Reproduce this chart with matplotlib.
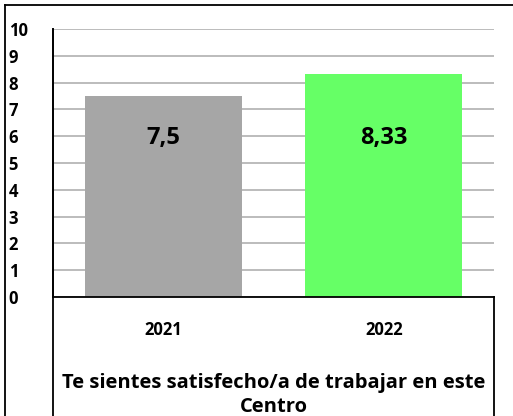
import matplotlib.pyplot as plt
from matplotlib.lines import Line2D

# datos
years = ['2021', '2022']
values = [7.5, 8.33]
value_labels = ['7,5', '8,33']
bar_colors = ['#a6a6a6', '#66ff66']
yticks = list(range(0, 11))
title = 'Te sientes satisfecho/a de trabajar en este\nCentro'

plt.rcParams['font.family'] = ['Open Sans', 'DejaVu Sans']
plt.rcParams['font.weight'] = 'bold'

W, H = 513, 416
fig = plt.figure(figsize=(W / 100, H / 100), dpi=100)
ax = fig.add_axes([53 / W, 1 - 297 / H, (494 - 53) / W, (297 - 29) / H])

x = range(len(years))
ax.bar(x, values, width=0.71, color=bar_colors, zorder=2)
for i, lab in enumerate(value_labels):
    ax.text(i, 5.95, lab, ha='center', va='center', fontsize=17, fontweight='bold', zorder=3)

ax.set_xlim(-0.5, 1.5)
ax.set_ylim(0, 10)
ax.set_yticks(yticks)
ax.set_yticklabels([str(t) for t in yticks], fontsize=12, fontweight='bold', ha='left')
ax.tick_params(axis='y', length=0, pad=32)
ax.set_xticks([])
ax.grid(axis='y', color='#b0b0b0', linewidth=1.2, zorder=0)

for s in ['top', 'right', 'bottom']:
    ax.spines[s].set_visible(False)
ax.spines['left'].set_linewidth(1.2)

# caja del eje de categorias y marco exterior
lines = [
    ([53, 53], [29, 416]),
    ([53, 494], [297, 297]),
    ([494, 494], [297, 416]),
    ([5, 5], [5, 416]),
    ([5, 513], [5, 5]),
]
for xs, ys in lines:
    fx = [v / W for v in xs]
    fy = [1 - v / H for v in ys]
    fig.add_artist(Line2D(fx, fy, color='black', linewidth=1.3))

for i, y in enumerate(years):
    ax.text(i, -1.23, y, ha='center', va='center', fontsize=12, fontweight='bold', clip_on=False)
ax.text(0.5, -3.66, title, ha='center', va='center', fontsize=14.5, fontweight='bold',
        linespacing=1.28, clip_on=False)

fig.savefig('out.png', dpi=100)
